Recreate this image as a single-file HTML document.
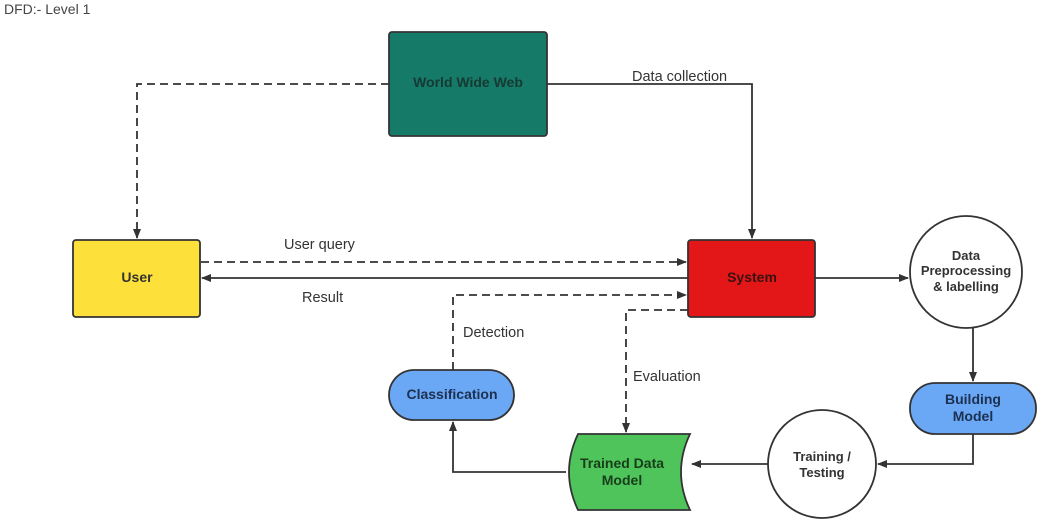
<!DOCTYPE html>
<html><head><style>body{margin:0;background:#fff}svg{display:block}</style></head>
<body>
<svg width="1052" height="521" viewBox="0 0 1052 521" xmlns="http://www.w3.org/2000/svg" font-family="Liberation Sans, sans-serif">
<defs><marker id="a" markerWidth="10" markerHeight="10" refX="9" refY="5" orient="auto" markerUnits="userSpaceOnUse"><path d="M0,1 L10,5 L0,9 z" fill="#333"/></marker></defs>
<text x="4" y="14" font-size="14" fill="#444">DFD:- Level 1</text>
<g fill="none" stroke="#333" stroke-width="1.8">
<path d="M389,84 H137 V238" stroke-dasharray="8,5" marker-end="url(#a)"/>
<path d="M547,84 H752 V238" marker-end="url(#a)"/>
<path d="M201,262 H686" stroke-dasharray="8,5" marker-end="url(#a)"/>
<path d="M688,278 H202" marker-end="url(#a)"/>
<path d="M453,370 V295 H686" stroke-dasharray="8,5" marker-end="url(#a)"/>
<path d="M688,310 H626 V432" stroke-dasharray="8,5" marker-end="url(#a)"/>
<path d="M815,278 H908" marker-end="url(#a)"/>
<path d="M973,327 V381" marker-end="url(#a)"/>
<path d="M973,434 V464 H878" marker-end="url(#a)"/>
<path d="M768,464 H692" marker-end="url(#a)"/>
<path d="M566,472 H453 V422" marker-end="url(#a)"/>
</g>
<rect x="389" y="32" width="158" height="104" rx="3" fill="#167a69" stroke="#333" stroke-width="1.8"/>
<text x="468" y="87" font-size="14" font-weight="bold" fill="#163a33" text-anchor="middle">World Wide Web</text>
<rect x="73" y="240" width="127" height="77" rx="3" fill="#fde03a" stroke="#333" stroke-width="1.8"/>
<text x="137" y="282" font-size="14" font-weight="bold" fill="#333" text-anchor="middle">User</text>
<rect x="688" y="240" width="127" height="77" rx="3" fill="#e31717" stroke="#333" stroke-width="1.8"/>
<text x="752" y="282" font-size="14" font-weight="bold" fill="#3a1111" text-anchor="middle">System</text>
<circle cx="966" cy="272" r="56" fill="#fff" stroke="#333" stroke-width="1.8"/>
<text font-size="13" font-weight="bold" fill="#333" text-anchor="middle"><tspan x="966" y="260">Data</tspan><tspan x="966" y="275">Preprocessing</tspan><tspan x="966" y="291">&amp; labelling</tspan></text>
<rect x="910" y="383" width="126" height="51" rx="25" fill="#6aa8f5" stroke="#333" stroke-width="1.8"/>
<text font-size="14" font-weight="bold" fill="#1d3050" text-anchor="middle"><tspan x="973" y="404">Building</tspan><tspan x="973" y="421">Model</tspan></text>
<circle cx="822" cy="464" r="54" fill="#fff" stroke="#333" stroke-width="1.8"/>
<text font-size="13" font-weight="bold" fill="#333" text-anchor="middle"><tspan x="822" y="461">Training /</tspan><tspan x="822" y="477">Testing</tspan></text>
<path d="M578,434 H690 Q672,472 690,510 H578 Q560,472 578,434 z" fill="#4fc45a" stroke="#333" stroke-width="1.8"/>
<text font-size="14" font-weight="bold" fill="#173d1b" text-anchor="middle"><tspan x="622" y="468">Trained Data</tspan><tspan x="622" y="485">Model</tspan></text>
<rect x="389" y="370" width="125" height="50" rx="25" fill="#6aa8f5" stroke="#333" stroke-width="1.8"/>
<text x="452" y="399" font-size="14" font-weight="bold" fill="#1d3050" text-anchor="middle">Classification</text>
<g font-size="14.5" fill="#333">
<text x="632" y="81">Data collection</text>
<text x="284" y="249">User query</text>
<text x="302" y="302">Result</text>
<text x="463" y="337">Detection</text>
<text x="633" y="381">Evaluation</text>
</g>
</svg>
</body></html>
